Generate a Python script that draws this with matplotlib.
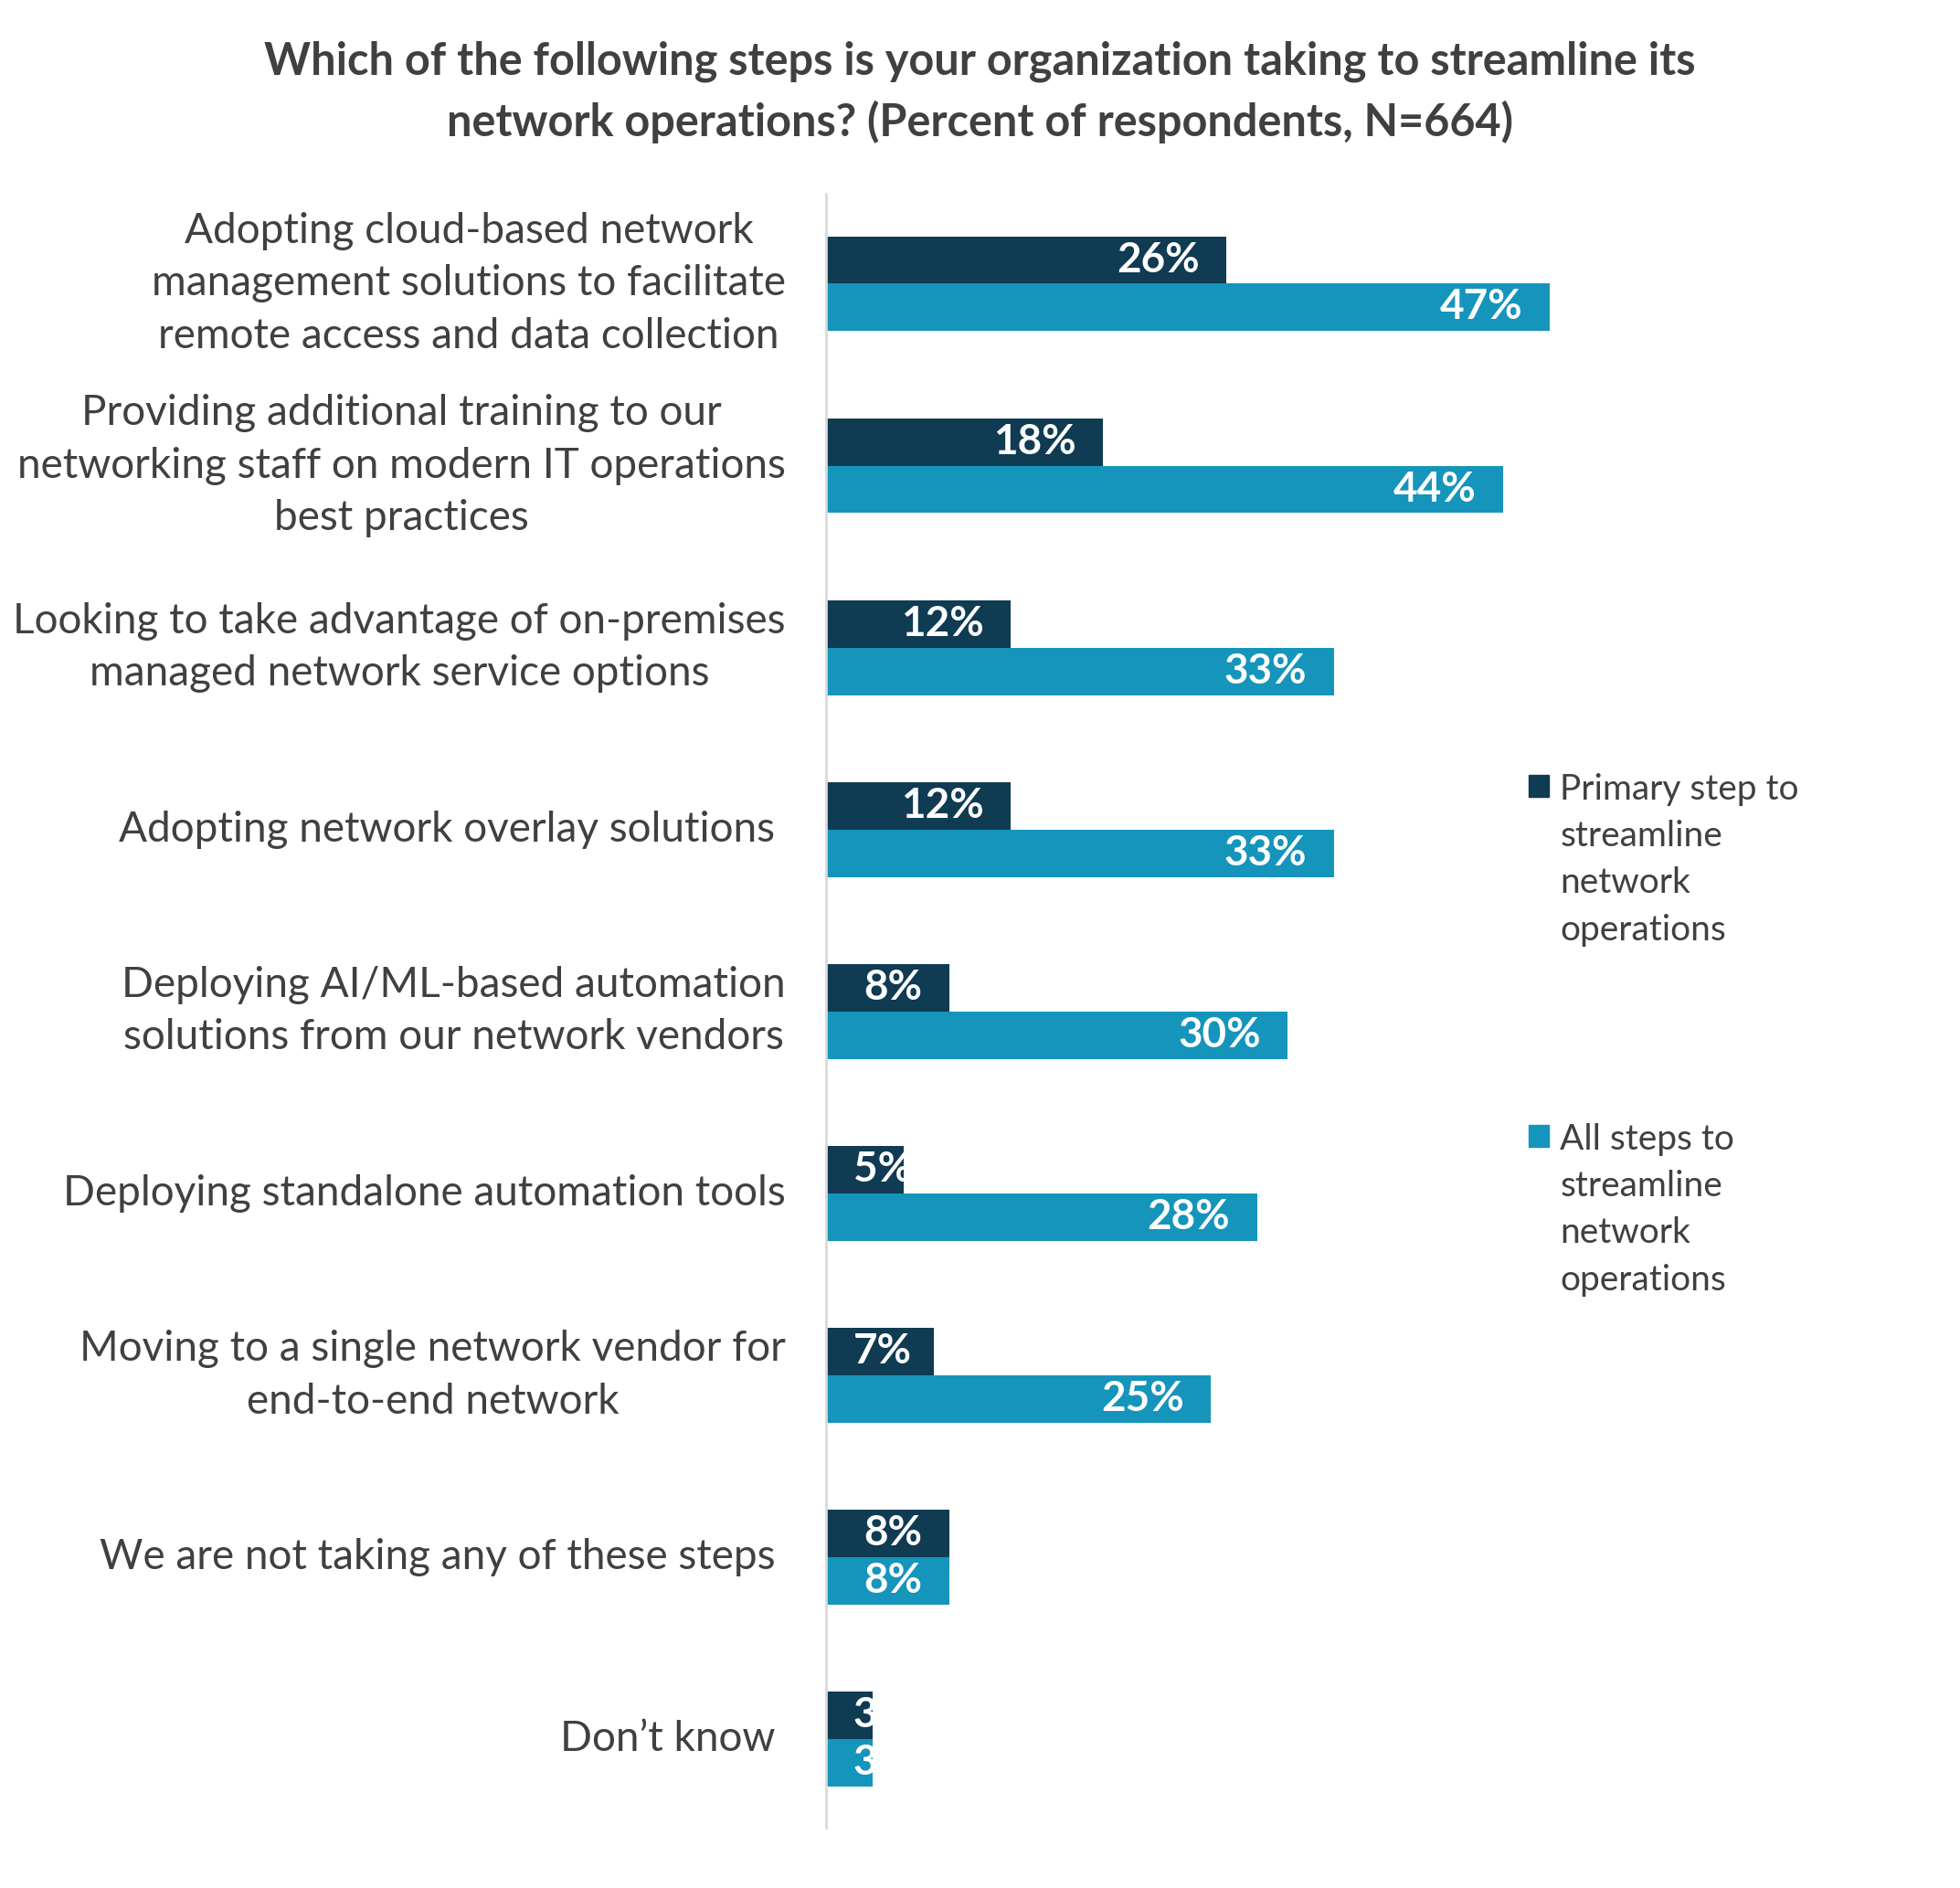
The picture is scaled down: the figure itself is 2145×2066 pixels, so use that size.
import matplotlib
matplotlib.use("Agg")
import matplotlib.pyplot as plt
from matplotlib.patches import Rectangle
import numpy as np

plt.rcParams['font.family'] = ['Lato', 'DejaVu Sans']

categories = [
    "Adopting cloud-based network\nmanagement solutions to facilitate\nremote access and data collection",
    "Providing additional training to our\nnetworking staff on modern IT operations\nbest practices",
    "Looking to take advantage of on-premises\nmanaged network service options",
    "Adopting network overlay solutions ",
    "Deploying AI/ML-based automation\nsolutions from our network vendors",
    "Deploying standalone automation tools",
    "Moving to a single network vendor for\nend-to-end network",
    "We are not taking any of these steps ",
    "Don\u2019t know ",
]
primary = [26, 18, 12, 12, 8, 5, 7, 8, 3]
all_steps = [47, 44, 33, 33, 30, 28, 25, 8, 3]
series_names = ["Primary step to\nstreamline\nnetwork\noperations",
                "All steps to\nstreamline\nnetwork\noperations"]
title = ("Which of the following steps is your organization taking to streamline its\n"
         "network operations? (Percent of respondents, N=664)")

DARK = "#0F3B53"
LIGHT = "#1595BB"
TEXT = "#404040"

W, H = 2145, 2066
fig = plt.figure(figsize=(W / 100, H / 100), dpi=100)
ax = fig.add_axes([0.4216, 0.0318, 0.4709, 0.8656])

y = np.arange(len(categories))
bh = 0.261
bars1 = ax.barh(y - bh / 2, primary, height=bh, color=DARK)
bars2 = ax.barh(y + bh / 2, all_steps, height=bh, color=LIGHT)

ax.set_xlim(0, 60)
ax.set_ylim(8.49, -0.495)
ax.set_xticks([])
ax.set_yticks(y)
ax.set_yticklabels(categories, fontsize=33, color=TEXT)
for lab in ax.get_yticklabels():
    lab.set_multialignment('center')
    lab.set_linespacing(1.46)
    lab.set_verticalalignment('center')
ax.tick_params(axis='y', length=0, pad=32)
for s in ['top', 'right', 'bottom']:
    ax.spines[s].set_visible(False)
ax.spines['left'].set_color('#D9D9D9')
ax.spines['left'].set_linewidth(2.0)

fig.canvas.draw()
renderer = fig.canvas.get_renderer()
pad = 1.75
inv = ax.transData.inverted()
for bars, vals in ((bars1, primary), (bars2, all_steps)):
    for bar, v in zip(bars, vals):
        t = ax.text(0, bar.get_y() + bar.get_height() / 2, f"{v}%", color='white',
                    fontsize=33, fontweight='bold', va='center', ha='left')
        bb = t.get_window_extent(renderer)
        wdata = inv.transform((bb.x1, 0))[0] - inv.transform((bb.x0, 0))[0]
        x0 = max(v - pad - wdata, pad)
        t.set_x(x0)
        t.set_clip_path(bar)

fig.text(0.5, 0.9513, title, ha='center', va='center', fontsize=35,
         fontweight='bold', color=TEXT, linespacing=1.5)

# legend
for name, col, ytop in ((series_names[0], DARK, 620), (series_names[1], LIGHT, 900)):
    fig.add_artist(Rectangle((1223 / 1568, 1 - (ytop + 17) / 1510), 16 / 1568, 17 / 1510,
                             transform=fig.transFigure, color=col))
    fig.text(1248 / 1568, 1 - (ytop - 2) / 1510, name, ha='left', va='top',
             fontsize=28, color=TEXT, linespacing=1.53)

fig.savefig("out.png", dpi=100, facecolor='white')
